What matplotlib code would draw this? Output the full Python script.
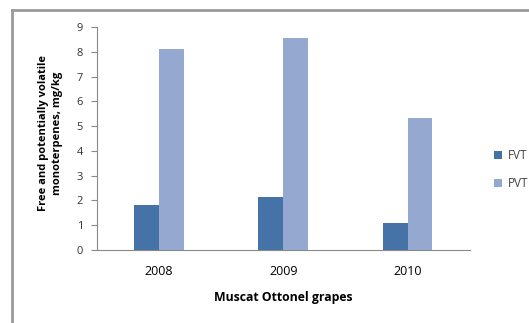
import numpy as np
import matplotlib
matplotlib.use("Agg")
import matplotlib.pyplot as plt
from matplotlib.lines import Line2D

plt.rcParams["font.family"] = ["Open Sans", "DejaVu Sans"]

years = ["2008", "2009", "2010"]
fvt = [1.81, 2.14, 1.08]
pvt = [8.10, 8.55, 5.35]

FVT_COLOR = "#4572A7"
PVT_COLOR = "#95A9D0"

fig = plt.figure(figsize=(5.29, 3.23), dpi=100)
ax = fig.add_axes([0.183, 0.226, 0.705, 0.690])

x = np.arange(len(years))
w = 0.2
ax.bar(x - w / 2, fvt, w, color=FVT_COLOR, label="FVT")
ax.bar(x + w / 2, pvt, w, color=PVT_COLOR, label="PVT")

ax.set_xlim(-0.5, 2.5)
ax.set_ylim(0, 9)
ax.set_yticks(range(10))
ax.set_xticks(x)
ax.set_xticklabels(years, fontsize=9)
ax.tick_params(axis="y", labelsize=8, length=4, color="#888888", labelcolor="#333333", pad=6)
ax.tick_params(axis="x", length=0, pad=11)

for s in ["top", "right"]:
    ax.spines[s].set_visible(False)
ax.spines["left"].set_color("#888888")
ax.spines["bottom"].set_color("#888888")

ax.set_xlabel("Muscat Ottonel grapes", fontsize=8.8, fontweight="bold", labelpad=9)
fig.text(0.095, 0.588, "Free and potentially volatile\nmonoterpenes, mg/kg",
         rotation=90, ha="center", va="center", fontsize=8, fontweight="bold",
         linespacing=1.4)

fig.legend(loc="center left", bbox_to_anchor=(0.913, 0.475), frameon=False,
           fontsize=8.5, handlelength=0.7, handleheight=0.7, handletextpad=0.5,
           labelspacing=1.3, labelcolor="#444444")

# outer chart frame (left and top edges)
frame = "#9a9a9a"
fig.add_artist(Line2D([12 / 529, 12 / 529], [0, 1 - 10 / 323], color=frame, lw=2,
                      transform=fig.transFigure))
fig.add_artist(Line2D([12 / 529, 1], [1 - 10 / 323, 1 - 10 / 323], color=frame, lw=2,
                      transform=fig.transFigure))

fig.savefig("out.png", dpi=100)
